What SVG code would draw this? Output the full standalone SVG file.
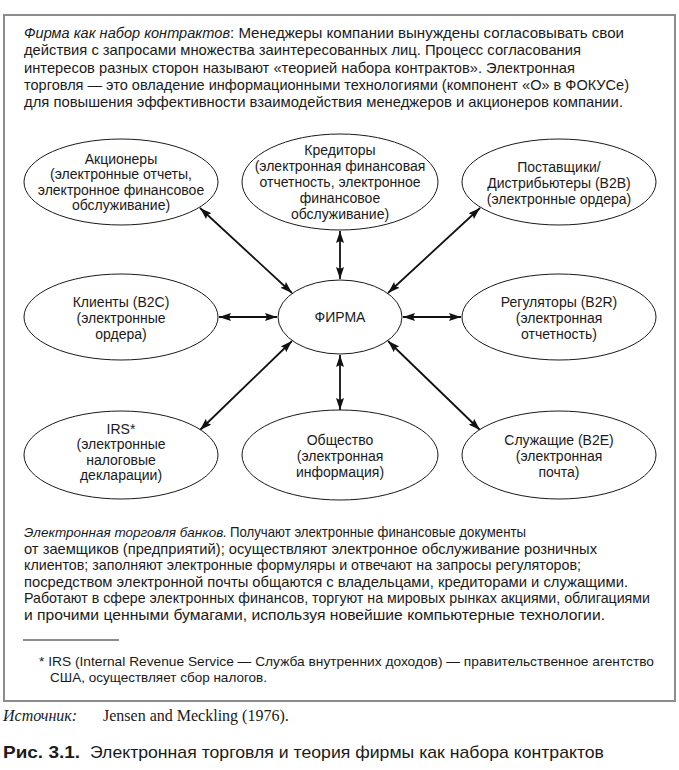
<svg xmlns="http://www.w3.org/2000/svg" width="679" height="770" viewBox="0 0 679 770">
<style>
.t{font-family:"Liberation Sans",Arial,sans-serif;fill:#1a1a1a}
.p{font-size:14.5px}
.e{font-size:14px;text-anchor:middle}
.it{font-style:italic}
.node{fill:#fff;stroke:#1a1a1a;stroke-width:1}
.con{stroke:#111;stroke-width:1.8;fill:none;marker-start:url(#ah);marker-end:url(#ah)}
</style>
<defs>
<marker id="ah" markerUnits="userSpaceOnUse" markerWidth="13" markerHeight="8" refX="12" refY="4" orient="auto-start-reverse">
<path d="M0,0 L12,4 L0,8 L2,4 z" fill="#111"/>
</marker>
</defs>
<rect x="0" y="0" width="679" height="770" fill="#fff"/>
<rect x="4" y="15" width="671" height="686" fill="#fff" stroke="#8c8c8c" stroke-width="2"/>

<g id="intro" class="t p">
<text class="it" x="24" y="38" textLength="206" lengthAdjust="spacingAndGlyphs">Фирма как набор контрактов</text>
<text x="230" y="38" textLength="394" lengthAdjust="spacingAndGlyphs">: Менеджеры компании вынуждены согласовывать свои</text>
<text x="24" y="55" textLength="557" lengthAdjust="spacingAndGlyphs">действия с запросами множества заинтересованных лиц. Процесс согласования</text>
<text x="24" y="73" textLength="551" lengthAdjust="spacingAndGlyphs">интересов разных сторон называют «теорией набора контрактов». Электронная</text>
<text x="24" y="90" textLength="605" lengthAdjust="spacingAndGlyphs">торговля — это овладение информационными технологиями (компонент «О» в ФОКУСе)</text>
<text x="24" y="107" textLength="599" lengthAdjust="spacingAndGlyphs">для повышения эффективности взаимодействия менеджеров и акционеров компании.</text>
</g>

<g id="connectors">
<line class="con" x1="292" y1="293" x2="200" y2="208"/>
<line class="con" x1="340" y1="279" x2="340" y2="231"/>
<line class="con" x1="388" y1="293" x2="480" y2="208"/>
<line class="con" x1="277" y1="317" x2="219" y2="317"/>
<line class="con" x1="403" y1="317" x2="461" y2="317"/>
<line class="con" x1="292" y1="341" x2="200" y2="430"/>
<line class="con" x1="340" y1="355" x2="340" y2="410"/>
<line class="con" x1="388" y1="341" x2="480" y2="430"/>
</g>

<g id="n-akcionery">
<ellipse class="node" cx="121" cy="182" rx="97" ry="43"/>
<text class="t e" x="121" y="164">Акционеры</text>
<text class="t e" x="121" y="179">(электронные отчеты,</text>
<text class="t e" x="121" y="195">электронное финансовое</text>
<text class="t e" x="121" y="210">обслуживание)</text>
</g>
<g id="n-kreditory">
<ellipse class="node" cx="340" cy="182" rx="98" ry="48"/>
<text class="t e" x="340" y="155">Кредиторы</text>
<text class="t e" x="340" y="171">(электронная финансовая</text>
<text class="t e" x="340" y="187">отчетность, электронное</text>
<text class="t e" x="340" y="203">финансовое</text>
<text class="t e" x="340" y="219">обслуживание)</text>
</g>
<g id="n-postavshchiki">
<ellipse class="node" cx="559" cy="182" rx="97" ry="43"/>
<text class="t e" x="559" y="172">Поставщики/</text>
<text class="t e" x="559" y="188">Дистрибьютеры (B2B)</text>
<text class="t e" x="559" y="204">(электронные ордера)</text>
</g>
<g id="n-klienty">
<ellipse class="node" cx="121" cy="317" rx="97" ry="43"/>
<text class="t e" x="121" y="307">Клиенты (B2C)</text>
<text class="t e" x="121" y="323">(электронные</text>
<text class="t e" x="121" y="339">ордера)</text>
</g>
<g id="n-firma">
<ellipse class="node" cx="340" cy="317" rx="62" ry="37"/>
<text class="t e" x="340" y="322">ФИРМА</text>
</g>
<g id="n-regulyatory">
<ellipse class="node" cx="559" cy="317" rx="97" ry="43"/>
<text class="t e" x="559" y="307">Регуляторы (B2R)</text>
<text class="t e" x="559" y="323">(электронная</text>
<text class="t e" x="559" y="339">отчетность)</text>
</g>
<g id="n-irs">
<ellipse class="node" cx="121" cy="455" rx="97" ry="44"/>
<text class="t e" x="121" y="434">IRS*</text>
<text class="t e" x="121" y="449">(электронные</text>
<text class="t e" x="121" y="465">налоговые</text>
<text class="t e" x="121" y="480">декларации)</text>
</g>
<g id="n-obshchestvo">
<ellipse class="node" cx="340" cy="455" rx="98" ry="45"/>
<text class="t e" x="340" y="445">Общество</text>
<text class="t e" x="340" y="461">(электронная</text>
<text class="t e" x="340" y="477">информация)</text>
</g>
<g id="n-sluzhashchie">
<ellipse class="node" cx="559" cy="455" rx="97" ry="44"/>
<text class="t e" x="559" y="445">Служащие (B2E)</text>
<text class="t e" x="559" y="461">(электронная</text>
<text class="t e" x="559" y="477">почта)</text>
</g>

<g id="banks" class="t p">
<text class="it" x="24" y="537" font-size="13.5px">Электронная торговля банков.</text>
<text x="230" y="537" textLength="296" lengthAdjust="spacingAndGlyphs">Получают электронные финансовые документы</text>
<text x="24" y="554" textLength="573" lengthAdjust="spacingAndGlyphs">от заемщиков (предприятий); осуществляют электронное обслуживание розничных</text>
<text x="24" y="570" textLength="557" lengthAdjust="spacingAndGlyphs">клиентов; заполняют электронные формуляры и отвечают на запросы регуляторов;</text>
<text x="24" y="587" textLength="604" lengthAdjust="spacingAndGlyphs">посредством электронной почты общаются с владельцами, кредиторами и служащими.</text>
<text x="24" y="603" textLength="626" lengthAdjust="spacingAndGlyphs">Работают в сфере электронных финансов, торгуют на мировых рынках акциями, облигациями</text>
<text x="24" y="620" textLength="581" lengthAdjust="spacingAndGlyphs">и прочими ценными бумагами, используя новейшие компьютерные технологии.</text>
</g>

<g id="footnote" class="t" font-size="13px">
<line x1="23" y1="640" x2="119" y2="640" stroke="#1a1a1a" stroke-width="1"/>
<text x="39" y="666" textLength="615" lengthAdjust="spacingAndGlyphs">* IRS (Internal Revenue Service — Служба внутренних доходов) — правительственное агентство</text>
<text x="50" y="682" textLength="217" lengthAdjust="spacingAndGlyphs">США, осуществляет сбор налогов.</text>
</g>

<g id="source" font-family="Liberation Serif,Times New Roman,serif" font-size="16px" fill="#1a1a1a">
<text x="3" y="721" font-style="italic">Источник:</text>
<text x="103" y="721">Jensen and Meckling (1976).</text>
</g>
<g id="caption" class="t" font-size="17px">
<text x="3" y="758" font-weight="bold" textLength="77" lengthAdjust="spacingAndGlyphs">Рис. 3.1.</text>
<text x="90" y="758" textLength="514" lengthAdjust="spacingAndGlyphs">Электронная торговля и теория фирмы как набора контрактов</text>
</g>
</svg>
